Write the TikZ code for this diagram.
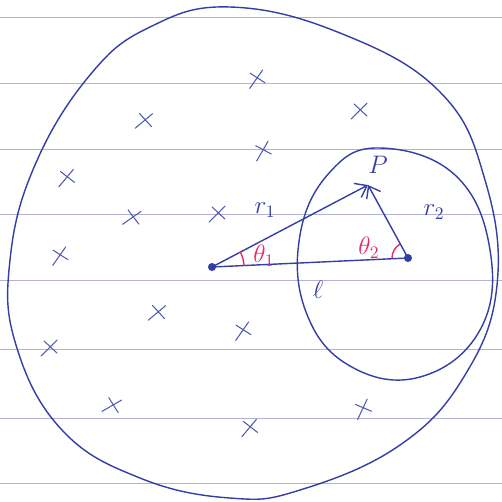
\documentclass[tikz,border=0pt]{standalone}
\usepackage{amsmath}
\usepackage{amssymb}
\usepackage{xcolor}
\usetikzlibrary{arrows.meta, positioning, calc}

\definecolor{inkblue}{RGB}{52,62,165}
\definecolor{inkred}{RGB}{228,45,100}
\definecolor{ruleline}{RGB}{178,178,218}

\begin{document}
\begin{tikzpicture}[x=0.02cm, y=-0.02cm, line cap=round, line join=round,
    ink/.style={draw=inkblue, line width=0.8pt},
    charge/.style={draw=inkblue!85, line width=0.6pt},
    lab/.style={text=inkblue, font=\Large},
    anglab/.style={text=inkred, font=\Large}]
    \useasboundingbox (0,0) rectangle (502,501);

    % Ruled lines of the page
    \foreach \yy in {17,83,149,214,280,349,418,483}
        \draw[ruleline, line width=0.5pt] (0,\yy) -- (502,\yy);

    % Outer region
    \draw[ink] plot[smooth cycle, tension=0.7] coordinates {
        (230,7) (340,33) (440,92) (485,180) (497,285) (465,375)
        (400,445) (300,490) (230,498) (140,478) (62,430) (16,345)
        (10,260) (35,165) (90,75) (150,27)};

    % Inner region round the second centre
    \draw[ink] plot[smooth cycle, tension=0.7] coordinates {
        (380,148) (455,175) (490,250) (480,330) (420,377) (350,366)
        (306,312) (300,235) (330,172)};

    % Charges scattered in the region
    \foreach \cx/\cy/\ca in {257/78/10, 145/120/-5, 360/110/0, 263/150/15,
        67/177/5, 133/217/-10, 218/213/0, 60/255/10, 158/312/-5,
        243/330/10, 50/347/0, 113/405/-15, 250/427/5, 363/408/20}
        \draw[charge, shift={(\cx,\cy)}, rotate=\ca]
            (-9,9) -- (7,-7) (-6,-6) -- (7,6);

    % Centres and the point P
    \coordinate (O1) at (212,267);
    \coordinate (O2) at (408,258);
    \coordinate (P) at (368,185);

    \fill[inkblue] (O1) circle (2.3pt);
    \fill[inkblue] (O2) circle (2.3pt);

    \draw[ink] (O1) -- (O2);
    \draw[ink, -{Straight Barb[length=6pt, width=9pt]}] (O1) -- (P);
    \draw[ink, -{Straight Barb[length=6pt, width=9pt]}] (O2) -- (P);

    % Angle marks
    \draw[inkred, line width=0.8pt] (O1) ++(-3:32) arc[start angle=-3, end angle=-27, radius=32];
    \draw[inkred, line width=0.8pt] (O2) ++(-122:16) arc[start angle=-122, end angle=-180, radius=16];

    % Labels
    \node[lab] (Plab) at (378,165) {$P$};
    \node[lab] (r1lab) at (265,210) {$r_1$};
    \node[lab] (r2lab) at (434,212) {$r_2$};
    \node[lab] (llab) at (318,290) {$\ell$};
    \node[anglab] (t1lab) at (264,256) {$\theta_1$};
    \node[anglab] (t2lab) at (369,248) {$\theta_2$};
\end{tikzpicture}
\end{document}
